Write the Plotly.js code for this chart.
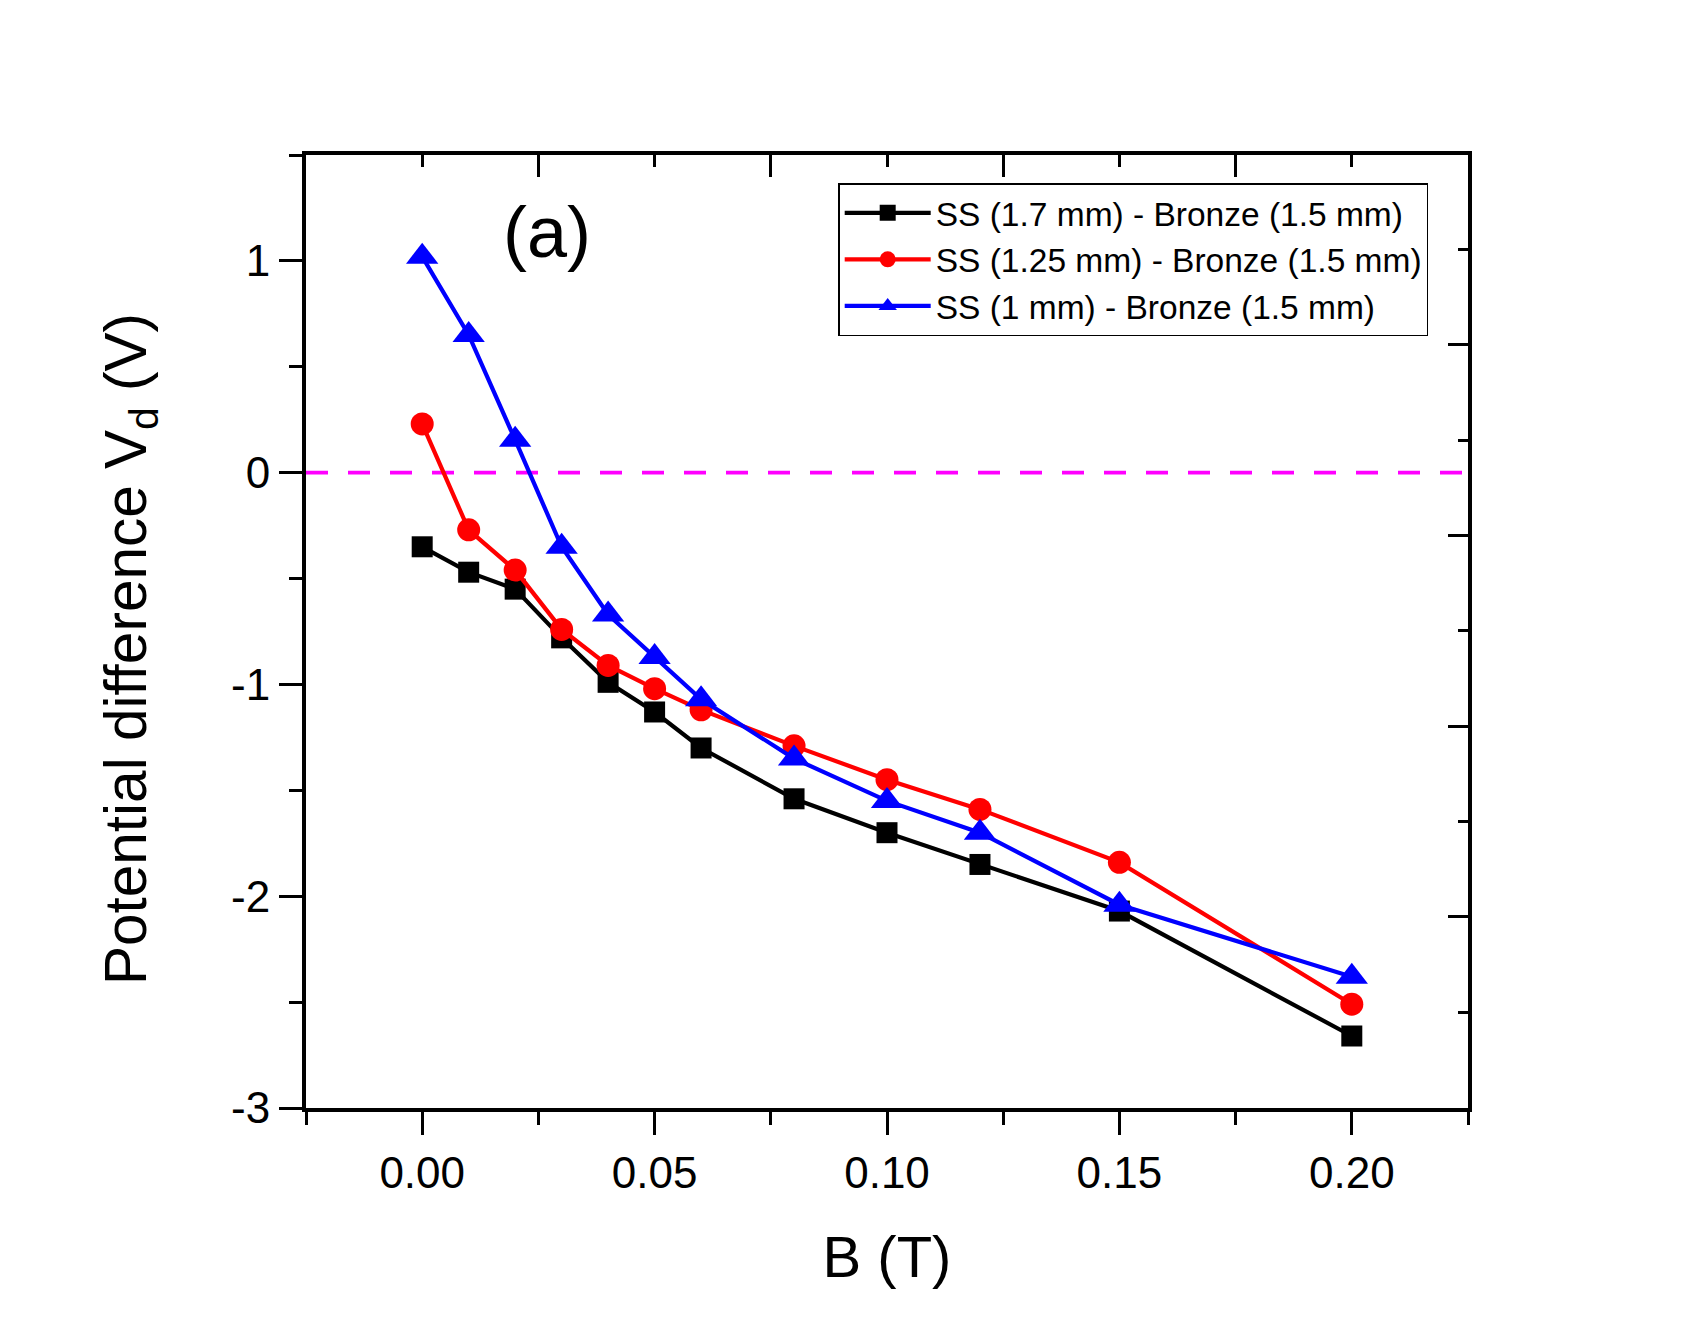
<!DOCTYPE html>
<html>
<head>
<meta charset="utf-8">
<script src="https://cdn.plot.ly/plotly-3.0.1.min.js"></script>
<style>html,body{margin:0;padding:0;background:#fff}#chart{width:1705px;height:1330px}</style>
</head>
<body>
<div id="chart"></div>
<script>
// Data
const B = [0, 0.01, 0.02, 0.03, 0.04, 0.05, 0.06, 0.08, 0.10, 0.12, 0.15, 0.20];
const vd_ss17 = [-0.35, -0.47, -0.55, -0.78, -0.99, -1.13, -1.30, -1.54, -1.70, -1.85, -2.07, -2.66];
const vd_ss125 = [0.23, -0.27, -0.46, -0.74, -0.91, -1.02, -1.12, -1.29, -1.45, -1.59, -1.84, -2.51];
const vd_ss1 = [1.02, 0.65, 0.155, -0.35, -0.67, -0.87, -1.07, -1.35, -1.55, -1.70, -2.04, -2.38];
const seriesNames = [
  "SS (1.7 mm) - Bronze (1.5 mm)",
  "SS (1.25 mm) - Bronze (1.5 mm)",
  "SS (1 mm) - Bronze (1.5 mm)"
];
const yTickVals = [-3, -2, -1, 0, 1];
const yTickText = ["-3", "-2", "-1", "0", "1"];
const xTitle = "B (T)";
const yTitle = "Potential difference V<sub>d</sub> (V)";
const panelLabel = "(a)";

const FONT = "Liberation Sans, Arial, Helvetica, sans-serif";

const traces = [
  {x: B, y: vd_ss17, name: seriesNames[0], type: "scatter", mode: "lines+markers",
   line: {color: "#000000", width: 4.2},
   marker: {symbol: "square", size: 21, color: "#000000"}},
  {x: B, y: vd_ss125, name: seriesNames[1], type: "scatter", mode: "lines+markers",
   line: {color: "#ff0000", width: 4.2},
   marker: {symbol: "circle", size: 23, color: "#ff0000"}},
  {x: B, y: vd_ss1, name: seriesNames[2], type: "scatter", mode: "lines+markers",
   line: {color: "#0000ff", width: 4.2},
   marker: {symbol: "triangle-up", size: 28, color: "#0000ff"}},
  // frame axes (top / right) carry no visible marks
  {x: B, y: vd_ss17, xaxis: "x2", yaxis: "y2", type: "scatter", mode: "none",
   showlegend: false, hoverinfo: "skip"}
];

const layout = {
  width: 1705, height: 1330,
  paper_bgcolor: "#ffffff", plot_bgcolor: "#ffffff",
  margin: {l: 306, r: 237, t: 155, b: 222, pad: 0},
  font: {family: FONT, color: "#000000"},
  showlegend: true,
  legend: {
    x: 0.458, y: 0.9706, xanchor: "left", yanchor: "top",
    bgcolor: "#ffffff", bordercolor: "#000000", borderwidth: 1.5,
    font: {family: FONT, size: 33.5, color: "#000000"},
    itemwidth: 86, tracegroupgap: 0
  },
  xaxis: {
    range: [-0.025, 0.225], tick0: 0, dtick: 0.05, tickformat: ".2f",
    ticks: "outside", ticklen: 23, tickwidth: 3, tickcolor: "#000",
    minor: {dtick: 0.025, tick0: 0, ticks: "outside", ticklen: 13, tickwidth: 3, tickcolor: "#000", showgrid: false},
    showline: true, linewidth: 4, linecolor: "#000", mirror: false,
    showgrid: false, zeroline: false,
    tickfont: {family: FONT, size: 44, color: "#000"},
    ticklabelstandoff: 0,
    title: {text: xTitle, font: {family: FONT, size: 58, color: "#000"}, standoff: 42}
  },
  yaxis: {
    range: [-3, 1.5], tickmode: "array", tickvals: yTickVals, ticktext: yTickText,
    ticks: "outside", ticklen: 23, tickwidth: 3, tickcolor: "#000",
    minor: {dtick: 0.5, tick0: 0, ticks: "outside", ticklen: 13, tickwidth: 3, tickcolor: "#000", showgrid: false},
    showline: true, linewidth: 4, linecolor: "#000", mirror: false,
    showgrid: false, zeroline: false,
    tickfont: {family: FONT, size: 44, color: "#000"},
    ticklabelstandoff: 0
  },
  xaxis2: {
    overlaying: "x", anchor: "y2", side: "top",
    range: [-0.025, 0.225], tick0: 0.025, dtick: 0.05,
    ticks: "inside", ticklen: 22, tickwidth: 3, tickcolor: "#000",
    minor: {dtick: 0.025, tick0: 0, ticks: "inside", ticklen: 12, tickwidth: 3, tickcolor: "#000", showgrid: false},
    showticklabels: false, showline: true, linewidth: 4, linecolor: "#000",
    showgrid: false, zeroline: false
  },
  yaxis2: {
    overlaying: "y", anchor: "x2", side: "right",
    range: [-3, 1.5], tick0: 0.603, dtick: 0.9,
    ticks: "inside", ticklen: 20, tickwidth: 3, tickcolor: "#000",
    minor: {dtick: 0.45, tick0: 0.153, ticks: "inside", ticklen: 10, tickwidth: 3, tickcolor: "#000", showgrid: false},
    showticklabels: false, showline: true, linewidth: 4, linecolor: "#000",
    showgrid: false, zeroline: false
  },
  shapes: [{
    type: "line", xref: "paper", x0: 0, x1: 1, yref: "y", y0: 0, y1: 0,
    line: {color: "#ff00ff", width: 3.8, dash: "22px,20px"}, layer: "below"
  }],
  annotations: [
    {text: panelLabel, xref: "paper", yref: "paper", x: 0.207, y: 0.919,
     xanchor: "center", yanchor: "middle", showarrow: false,
     font: {family: FONT, size: 72, color: "#000"}},
    {text: yTitle, xref: "paper", yref: "paper", x: -0.152, y: 0.482,
     xanchor: "center", yanchor: "middle", textangle: -90, showarrow: false,
     font: {family: FONT, size: 58.5, color: "#000"}}
  ]
};

Plotly.newPlot("chart", traces, layout, {displayModeBar: false, staticPlot: true});
</script>
</body>
</html>
